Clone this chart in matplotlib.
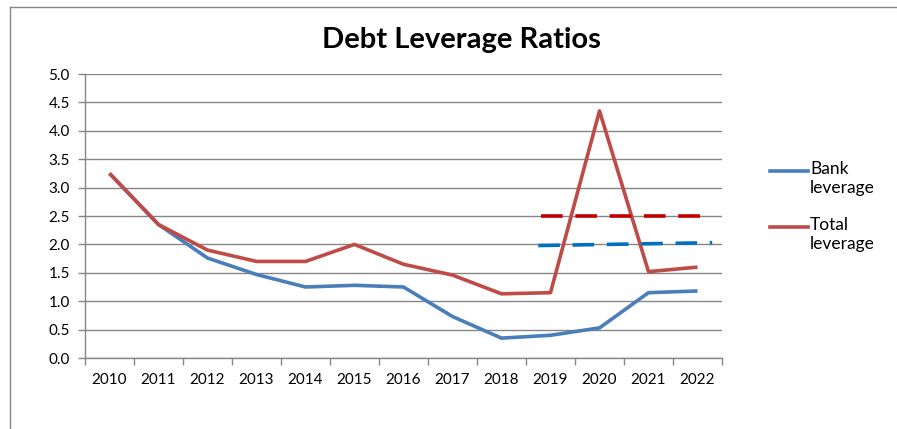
import matplotlib
matplotlib.use("Agg")
import matplotlib.pyplot as plt
from matplotlib.lines import Line2D

years = ["2010", "2011", "2012", "2013", "2014", "2015", "2016",
         "2017", "2018", "2019", "2020", "2021", "2022"]
bank_leverage = [3.25, 2.35, 1.76, 1.47, 1.25, 1.28, 1.25, 0.73, 0.35, 0.40, 0.53, 1.15, 1.18]
total_leverage = [3.25, 2.35, 1.90, 1.70, 1.70, 2.00, 1.65, 1.46, 1.13, 1.15, 4.35, 1.52, 1.60]

# dashed reference lines, x in category-index units
total_ref_x = [8.8, 12.1]
total_ref_y = [2.50, 2.50]
bank_ref_x = [8.75, 12.3]
bank_ref_y = [1.98, 2.03]

series_names = ["Bank\nleverage", "Total\nleverage"]
series_colors = ["#4A7EBB", "#BE4B48"]

plt.rcParams["font.family"] = ["Lato", "DejaVu Sans"]

W, H = 897, 429
fig = plt.figure(figsize=(W / 100, H / 100), dpi=100)
ax = fig.add_axes([85 / W, 1 - 358 / H, 637 / W, 284 / H])

x = list(range(len(years)))
ax.plot(x, bank_leverage, color=series_colors[0], lw=2.6, solid_capstyle="butt")
ax.plot(x, total_leverage, color=series_colors[1], lw=2.6, solid_capstyle="butt")
ax.plot(bank_ref_x, bank_ref_y, color="#0070C0", lw=2.6, dashes=(6, 3.5))
ax.plot(total_ref_x, total_ref_y, color="#C00000", lw=2.6, dashes=(6, 3.5))

ax.set_xlim(-0.5, len(years) - 0.5)
ax.set_ylim(0, 5)
ax.set_yticks([i * 0.5 for i in range(11)])
ax.set_yticklabels([f"{i * 0.5:.1f}" for i in range(11)], fontsize=11)
ax.set_xticks(x)
ax.set_xticklabels(years, fontsize=11)
ax.tick_params(axis="x", length=0, pad=11)
ax.set_xticks([i - 0.5 for i in range(len(years) + 1)], minor=True)
ax.tick_params(axis="x", which="minor", length=5, color="#868686", width=1)
ax.tick_params(axis="y", length=5, color="#868686", width=1, pad=6)
ax.grid(axis="y", color="#868686", lw=1)
ax.set_axisbelow(True)
for s in ["top", "right"]:
    ax.spines[s].set_visible(False)
for s in ["left", "bottom"]:
    ax.spines[s].set_color("#868686")
    ax.spines[s].set_linewidth(1)

fig.text(461 / W, 1 - 40 / H, "Debt Leverage Ratios", ha="center", va="center",
         fontsize=21, fontweight="bold")

# legend drawn by hand so the key sits on the first text line
for i, (name, col) in enumerate(zip(series_names, series_colors)):
    y0 = 171 + i * 56
    fig.add_artist(Line2D([770 / W, 808 / W], [1 - y0 / H, 1 - y0 / H], color=col, lw=2.6))
    fig.text(810 / W, 1 - (y0 - 10) / H, name, ha="left", va="top",
             fontsize=12.5, linespacing=1.2)

# chart-area border (partially visible)
fig.add_artist(Line2D([10 / W, 1], [1 - 7 / H, 1 - 7 / H], color="#868686", lw=1))
fig.add_artist(Line2D([10 / W, 10 / W], [0, 1 - 7 / H], color="#868686", lw=1))

fig.savefig("out.png", dpi=100)
